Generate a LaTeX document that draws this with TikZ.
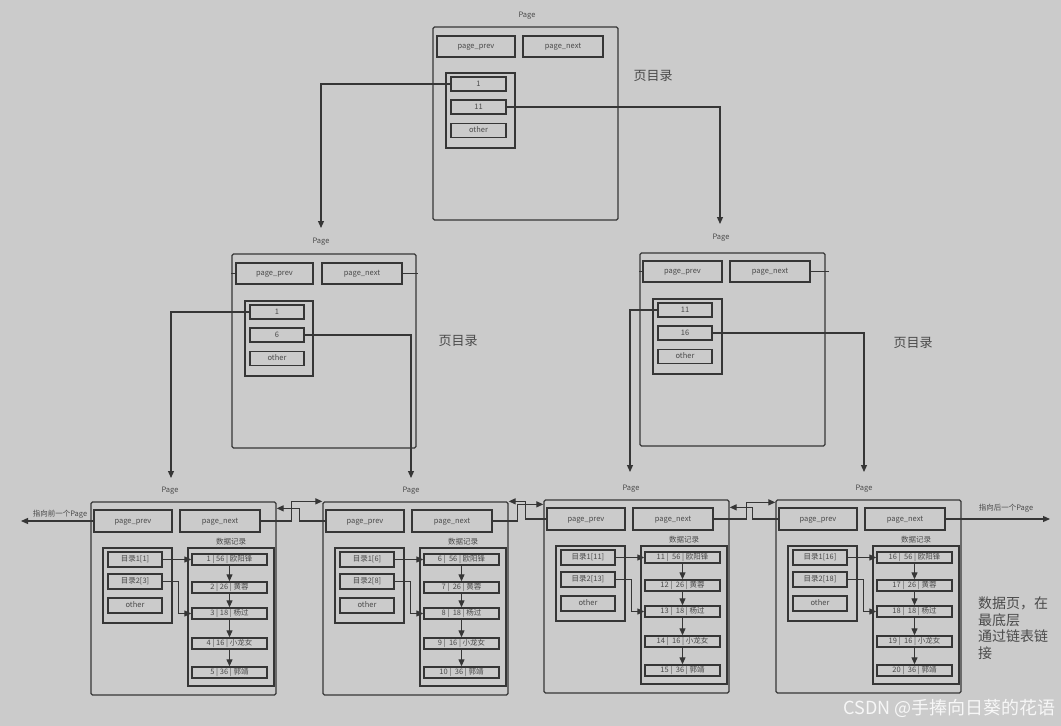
\documentclass[tikz,border=0pt]{standalone}
\usepackage{fontspec}
\setmainfont{Noto Sans CJK SC}
\usetikzlibrary{arrows.meta,calc}
\definecolor{bg}{HTML}{CBCBCB}
\definecolor{ln}{HTML}{363636}
\definecolor{tx}{HTML}{4A4A4A}
\tikzset{
 box/.style={draw=ln, line width=1.4pt, inner sep=0pt, text=tx, font=\fontsize{7.5}{9}\selectfont, text height=5.4pt, text depth=1.4pt},
 pagebox/.style={draw=ln, line width=1.3pt, rounded corners=1.5pt, inner sep=0pt},
 lbl/.style={text=tx, font=\fontsize{7.5}{9}\selectfont, inner sep=0pt},
 big/.style={text=tx, font=\fontsize{13}{15}\selectfont, inner sep=0pt},
 arr/.style={draw=ln, line width=1.2pt, -{Triangle[length=7pt,width=6pt]}},
 conn/.style={draw=ln, line width=1.2pt},
}
\newcommand{\dpage}[8]{%
\begin{scope}[shift={(#2,#3)}]
\node[lbl] (#1lab) at (#8,-11) {Page};
\node[pagebox, minimum width=185pt, minimum height=193pt] (#1) at (92.5,96.5) {};
\node[box, minimum width=78pt, minimum height=22pt] (#1p) at (42,19) {page\_prev};
\node[box, minimum width=80pt, minimum height=22pt] (#1n) at (129,19) {page\_next};
\node[lbl] (#1dt) at (140,40) {数据记录};
\node[box, minimum width=69pt, minimum height=75pt] (#1d) at (46.5,83.5) {};
\node[box, minimum width=54pt, minimum height=15pt] (#1d1) at (44,57.5) {#4};
\node[box, minimum width=54pt, minimum height=15pt] (#1d2) at (44,79.5) {#5};
\node[box, minimum width=54pt, minimum height=15pt] (#1d3) at (44,103.5) {other};
\node[box, minimum width=86pt, minimum height=138pt] (#1r) at (140,115) {};
\foreach \yy/\age/\nm [count=\i] in {57.5/56/欧阳锋,85.5/26/黄蓉,111.5/18/杨过,141.5/16/小龙女,170.5/36/郭靖}{
 \pgfmathtruncatemacro\num{#6+\i-1}
 \node[box, minimum width=75pt, minimum height=11pt] (#1r\i) at (138.5,\yy) {\num\ |#7\age\ | \nm};
}
\foreach \i/\j in {1/2,2/3,3/4,4/5} \draw[arr] (#1r\i.south) -- (#1r\j.north);
\draw[arr] (#1d1.east) -- (#1r1.west);
\draw[arr] (#1d2.east) -- ++(16,0) |- (#1r3.west);
\end{scope}}
\begin{document}
\begin{tikzpicture}[x=1pt,y=-1pt]
\fill[bg] (0,0) rectangle (1061,726);
\useasboundingbox (0,0) rectangle (1061,726);

% top page
\node[lbl] (Tlab) at (527,16) {Page};
\node[pagebox, minimum width=185pt, minimum height=193pt] (T) at (525.5,123.5) {};
\node[box, minimum width=78pt, minimum height=21pt] (Tp) at (476,46.5) {page\_prev};
\node[box, minimum width=80pt, minimum height=21pt] (Tn) at (563,46.5) {page\_next};
\node[box, minimum width=69pt, minimum height=75pt] (Td) at (480.5,110.5) {};
\node[box, minimum width=55pt, minimum height=14pt] (Ti1) at (478.5,84) {1};
\node[box, minimum width=55pt, minimum height=14pt] (Ti2) at (478.5,107) {11};
\node[box, minimum width=55pt, minimum height=14pt] (Ti3) at (478.5,130.5) {other};
\node[big] (Tt) at (653,76) {页目录};

% middle left page
\node[lbl] (Llab) at (321,242) {Page};
\node[pagebox, minimum width=184pt, minimum height=194pt] (L) at (324,351) {};
\node[box, minimum width=77pt, minimum height=21pt] (Lp) at (274.5,273.5) {page\_prev};
\node[box, minimum width=80pt, minimum height=21pt] (Ln) at (362,273.5) {page\_next};
\node[box, minimum width=68pt, minimum height=75pt] (Ld) at (279,338.5) {};
\node[box, minimum width=54pt, minimum height=14pt] (Li1) at (277,312) {1};
\node[box, minimum width=54pt, minimum height=14pt] (Li2) at (277,335) {6};
\node[box, minimum width=54pt, minimum height=14pt] (Li3) at (277,358.5) {other};
\node[big] (Lt) at (458,341) {页目录};
\draw[conn] (Lp.west) -- (Lp.west -| L.west);
\draw[conn] (Ln.east) -- ($(Ln.east -| L.east)+(1,0)$);

% middle right page
\node[lbl] (Rlab) at (721,238) {Page};
\node[pagebox, minimum width=185pt, minimum height=193pt] (R) at (732.5,349.5) {};
\node[box, minimum width=79pt, minimum height=21pt] (Rp) at (682.5,271.5) {page\_prev};
\node[box, minimum width=80pt, minimum height=21pt] (Rn) at (770,271.5) {page\_next};
\node[box, minimum width=69pt, minimum height=75pt] (Rd) at (687.5,336.5) {};
\node[box, minimum width=54pt, minimum height=14pt] (Ri1) at (685,310) {11};
\node[box, minimum width=54pt, minimum height=14pt] (Ri2) at (685,333) {16};
\node[box, minimum width=54pt, minimum height=14pt] (Ri3) at (685,356.5) {other};
\node[big] (Rt) at (913,343) {页目录};
\draw[conn] (Rp.west) -- (Rp.west -| R.west);
\draw[conn] (Rn.east) -- ($(Rn.east -| R.east)+(3,0)$);

% bottom data pages
\dpage{b1}{91}{502}{目录1[1]}{目录2[3]}{1}{\ }{79}
\dpage{b2}{323}{502}{目录1[6]}{目录2[8]}{6}{\ \ }{88}
\dpage{b3}{544}{500}{目录1[11]}{目录2[13]}{11}{\ \ }{87}
\dpage{b4}{776}{500}{目录1[16]}{目录2[18]}{16}{\ \ }{88}

% tree connectors
\coordinate (aL) at (321,228);
\coordinate (aR) at (720,224);
\coordinate (a1) at (171,478);
\coordinate (a2) at (411,478);
\coordinate (a3) at (630,472);
\coordinate (a4) at (864,472);
\draw[arr] (Ti1.west) -| (aL);
\draw[arr] (Ti2.east) -| (aR);
\draw[arr] (Li1.west) -| (a1);
\draw[arr] (Li2.east) -| (a2);
\draw[arr] (Ri1.west) -| (a3);
\draw[arr] (Ri2.east) -| (a4);

% linked list connectors
\draw[arr] (b1n.east) -- ++(31,0) |- (b2.north west);
\draw[arr] (b2p.west) -- ++(-26,0) |- ($(b1.north east)+(0,7)$);
\draw[arr] (b2n.east) -- ++(25,0) |- ($(b3.north west)+(0,5)$);
\draw[arr] (b3p.west) -- ++(-21,0) |- (b2.north east);
\draw[arr] (b3n.east) -- ++(33,0) |- ($(b4.north west)+(0,3)$);
\draw[arr] (b4p.west) -- ++(-26,0) |- ($(b3.north east)+(0,8)$);

\coordinate (ext1) at (21,521);
\coordinate (ext4) at (1050,519);
\draw[arr] (b1p.west) -- (ext1);
\draw[arr] (b4n.east) -- (ext4);
\node[lbl] (e1lab) at (60,514) {指向前一个Page};
\node[lbl] (e4lab) at (1006,508) {指向后一个Page};

\node[text=tx, font=\fontsize{14}{16.5}\selectfont, align=left, anchor=north west, inner sep=0pt] (note) at (978,597) {数据页，在\\最底层\\通过链表链\\接};

\node[text=white!94!gray, font=\fontsize{18}{20}\selectfont, inner sep=0pt, anchor=east] (wm) at (1056,708) {CSDN @手捧向日葵的花语};
\end{tikzpicture}
\end{document}
